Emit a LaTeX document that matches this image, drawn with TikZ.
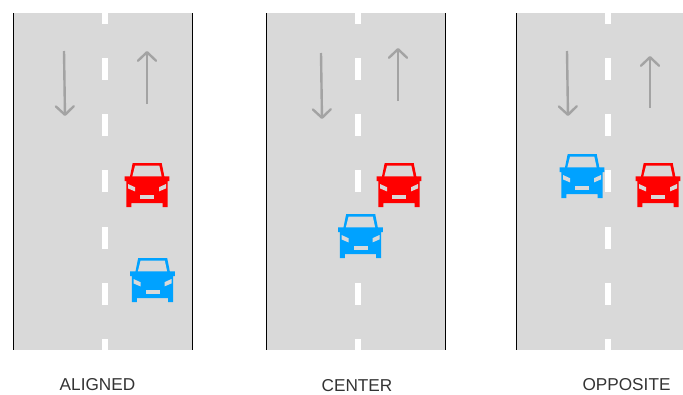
\documentclass[tikz,border=0pt]{standalone}
\usepackage{fontspec}
\setmainfont{Liberation Sans}
\usetikzlibrary{arrows.meta}
\definecolor{roadgray}{HTML}{D9D9D9}
\definecolor{arrowgray}{HTML}{A3A3A3}
\definecolor{carred}{HTML}{FF0000}
\definecolor{carblue}{HTML}{00A2FF}
\definecolor{captiontext}{HTML}{333333}
\tikzset{
  road/.style={fill=roadgray,draw=none},
  kerb/.style={draw=black,line width=1pt},
  lanemark/.style={fill=white,draw=none},
  flow/.style={-{Straight Barb[length=8.5pt,width=18pt,round]},draw=arrowgray,line width=2.4pt},
  caption/.style={font=\fontsize{17.2}{20}\selectfont,text=captiontext,inner sep=0pt},
  car/.pic={
    \fill[pic actions] (-14.3,0)--(14.7,0)--(17.3,13.3)--(22.3,13.3)--(22.3,18)--(20.6,18)
      --(20.6,44)--(15.6,44)--(15.6,40)--(-15.6,40)--(-15.6,44)--(-20.6,44)--(-20.6,18)
      --(-22.3,18)--(-22.3,13.3)--(-17,13.3)--cycle;
    \fill[roadgray] (-11.9,2.5)--(12.3,2.5)--(14.6,13.3)--(-14.6,13.3)--cycle;
    \fill[roadgray] (-19,21)--(-12,24.2)--(-12,28.4)--(-19,25.4)--cycle;
    \fill[roadgray] (19,21)--(12,24.2)--(12,28.4)--(19,25.4)--cycle;
    \fill[roadgray] (-6.9,31.5) rectangle (7.3,36);
  },
}
\begin{document}
\begin{tikzpicture}[x=1pt,y=-1pt]
  \useasboundingbox (0,0) rectangle (683,394);
  % roads
  \fill[road] (13,13) rectangle (192,350);
  \fill[road] (266,13) rectangle (445,350);
  \fill[road] (516,13) rectangle (683,350);
  \draw[kerb] (13.5,13)--(13.5,350);
  \draw[kerb] (192,13)--(192,350);
  \draw[kerb] (266.5,13)--(266.5,350);
  \draw[kerb] (445,13)--(445,350);
  \draw[kerb] (516.5,13)--(516.5,350);
  % centre lines
  \foreach \midx in {105,357.5,607.5}{
    \fill[lanemark] (\midx-3,13) rectangle (\midx+3,24);
    \foreach \topy in {58,114.2,170.4,226.6,282.8}
      \fill[lanemark] (\midx-3,\topy) rectangle (\midx+3,\topy+22);
    \fill[lanemark] (\midx-3,339) rectangle (\midx+3,350);
  }
  % traffic direction
  \coordinate (downA) at (64,51);   \coordinate (downAend) at (65,116);
  \coordinate (upA) at (147,104);   \coordinate (upAend) at (147,51);
  \coordinate (downB) at (321,53);  \coordinate (downBend) at (322,119);
  \coordinate (upB) at (398,101);   \coordinate (upBend) at (398,48);
  \coordinate (downC) at (567,51);  \coordinate (downCend) at (568,116);
  \coordinate (upC) at (650,108);   \coordinate (upCend) at (650,56);
  \draw[flow] (downA)--(downAend);
  \draw[flow] (upA)--(upAend);
  \draw[flow] (downB)--(downBend);
  \draw[flow] (upB)--(upBend);
  \draw[flow] (downC)--(downCend);
  \draw[flow] (upC)--(upCend);
  % cars
  \pic[fill=carred] at (147,163) {car};
  \pic[fill=carblue] at (152.5,258) {car};
  \pic[fill=carred] at (399,163) {car};
  \pic[fill=carblue] at (360.5,214) {car};
  \pic[fill=carblue] at (582,154) {car};
  \pic[fill=carred] at (658,163) {car};
  % captions
  \node[caption] (aligned) at (97.5,385) {ALIGNED};
  \node[caption] (center) at (357,385.5) {CENTER};
  \node[caption] (opposite) at (626.5,385) {OPPOSITE};
\end{tikzpicture}
\end{document}
